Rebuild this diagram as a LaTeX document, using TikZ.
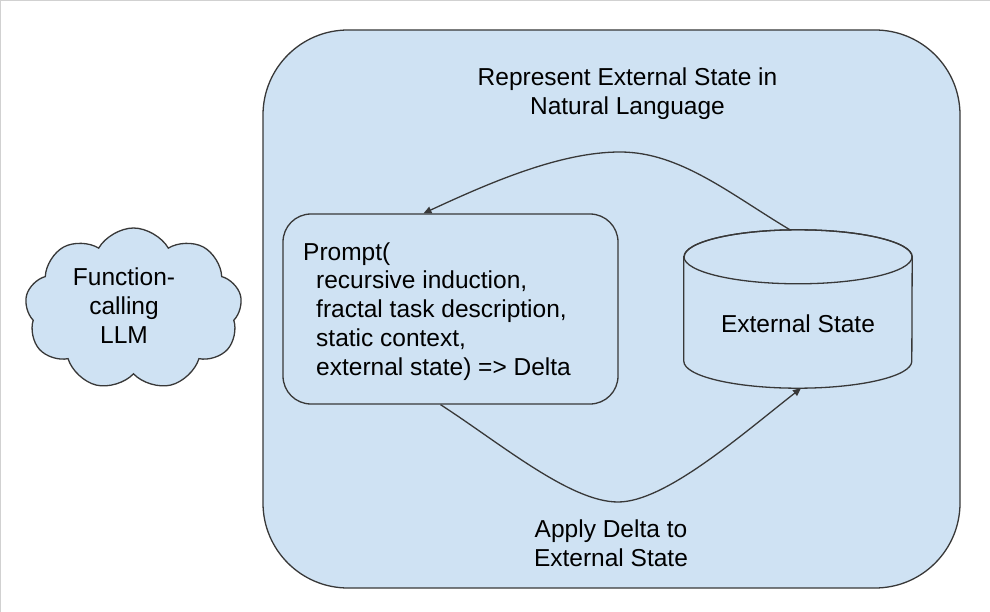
\documentclass[tikz,border=0pt]{standalone}
\usepackage{fontspec}
\setmainfont{Liberation Sans}
\usetikzlibrary{shapes.symbols,arrows.meta,calc}
\definecolor{bgblue}{HTML}{CFE2F3}
\definecolor{edgec}{HTML}{383838}
\begin{document}
\begin{tikzpicture}[x=1pt,y=-1pt,
  lbl/.style={inner sep=0pt, align=center, font=\fontsize{24.5}{29}\selectfont},
  outerbox/.style={draw=edgec, fill=bgblue, line width=1.3pt, rounded corners=85pt, inner sep=0pt},
  promptbox/.style={draw=edgec, fill=bgblue, line width=1.3pt, rounded corners=28pt, inner sep=0pt},
  cloudshape/.style={cloud, draw=edgec, fill=bgblue, line width=1.3pt, cloud puffs=9, cloud puff arc=120, aspect=1.34, inner sep=0pt},
  conn/.style={draw=edgec, line width=1.3pt, -{Triangle[length=8pt,width=7pt]}}]
\useasboundingbox (0,0) rectangle (990,612);
\fill[white] (0,0) rectangle (990,612);
\draw[black!18, line width=2pt] (990,0) -- (0,0) -- (0,612);

% outer rounded frame
\node[outerbox, minimum width=697pt, minimum height=558pt] (frame) at (611.5,309) {};
\node[lbl] (title) at (627.5,93.4) {Represent External State in\\Natural Language};
\node[lbl] (apply) at (611,542.9) {Apply Delta to\\External State};

% cloud
\node[cloudshape, minimum width=217pt, minimum height=162pt] (llm) at (133.5,309) {};
\node[lbl] (llmtxt) at (124,305.4) {Function-\\calling\\LLM};

% prompt box
\node[promptbox, minimum width=335pt, minimum height=190pt] (prompt) at (450.5,309) {};
\node[inner sep=0pt, anchor=west, align=left, font=\fontsize{24.5}{28.8}\selectfont] (prompttxt) at (303,311.4)
  {Prompt(\\
   \hspace*{13pt}recursive induction,\\
   \hspace*{13pt}fractal task description,\\
   \hspace*{13pt}static context,\\
   \hspace*{13pt}external state) => Delta};

% cylinder
\node[inner sep=0pt, minimum width=228pt, minimum height=158pt] (ext) at (798,309) {};
\draw[draw=edgec, fill=bgblue, line width=1.3pt]
  ([yshift=-27pt]ext.north west) -- ([yshift=27pt]ext.south west)
  arc[start angle=180, end angle=360, x radius=114pt, y radius=27pt]
  -- ([yshift=-27pt]ext.north east)
  arc[start angle=0, end angle=180, x radius=114pt, y radius=27pt] -- cycle;
\draw[draw=edgec, line width=1.3pt] ([yshift=-27pt]ext.north) ellipse[x radius=114pt, y radius=27pt];
\node[lbl, anchor=base] (exttxt) at (798,332) {External State};

% connectors
\draw[conn] ([xshift=-8pt]ext.north) .. controls (730,194) and (680,152) .. (620,152)
  .. controls (560,152) and (489,183) .. ([xshift=-27pt]prompt.north);
\draw[conn] ([xshift=-10pt]prompt.south) .. controls (500,443) and (570,502) .. (618,502)
  .. controls (665,502) and (740,436) .. ([xshift=3pt]ext.south);
\end{tikzpicture}
\end{document}
